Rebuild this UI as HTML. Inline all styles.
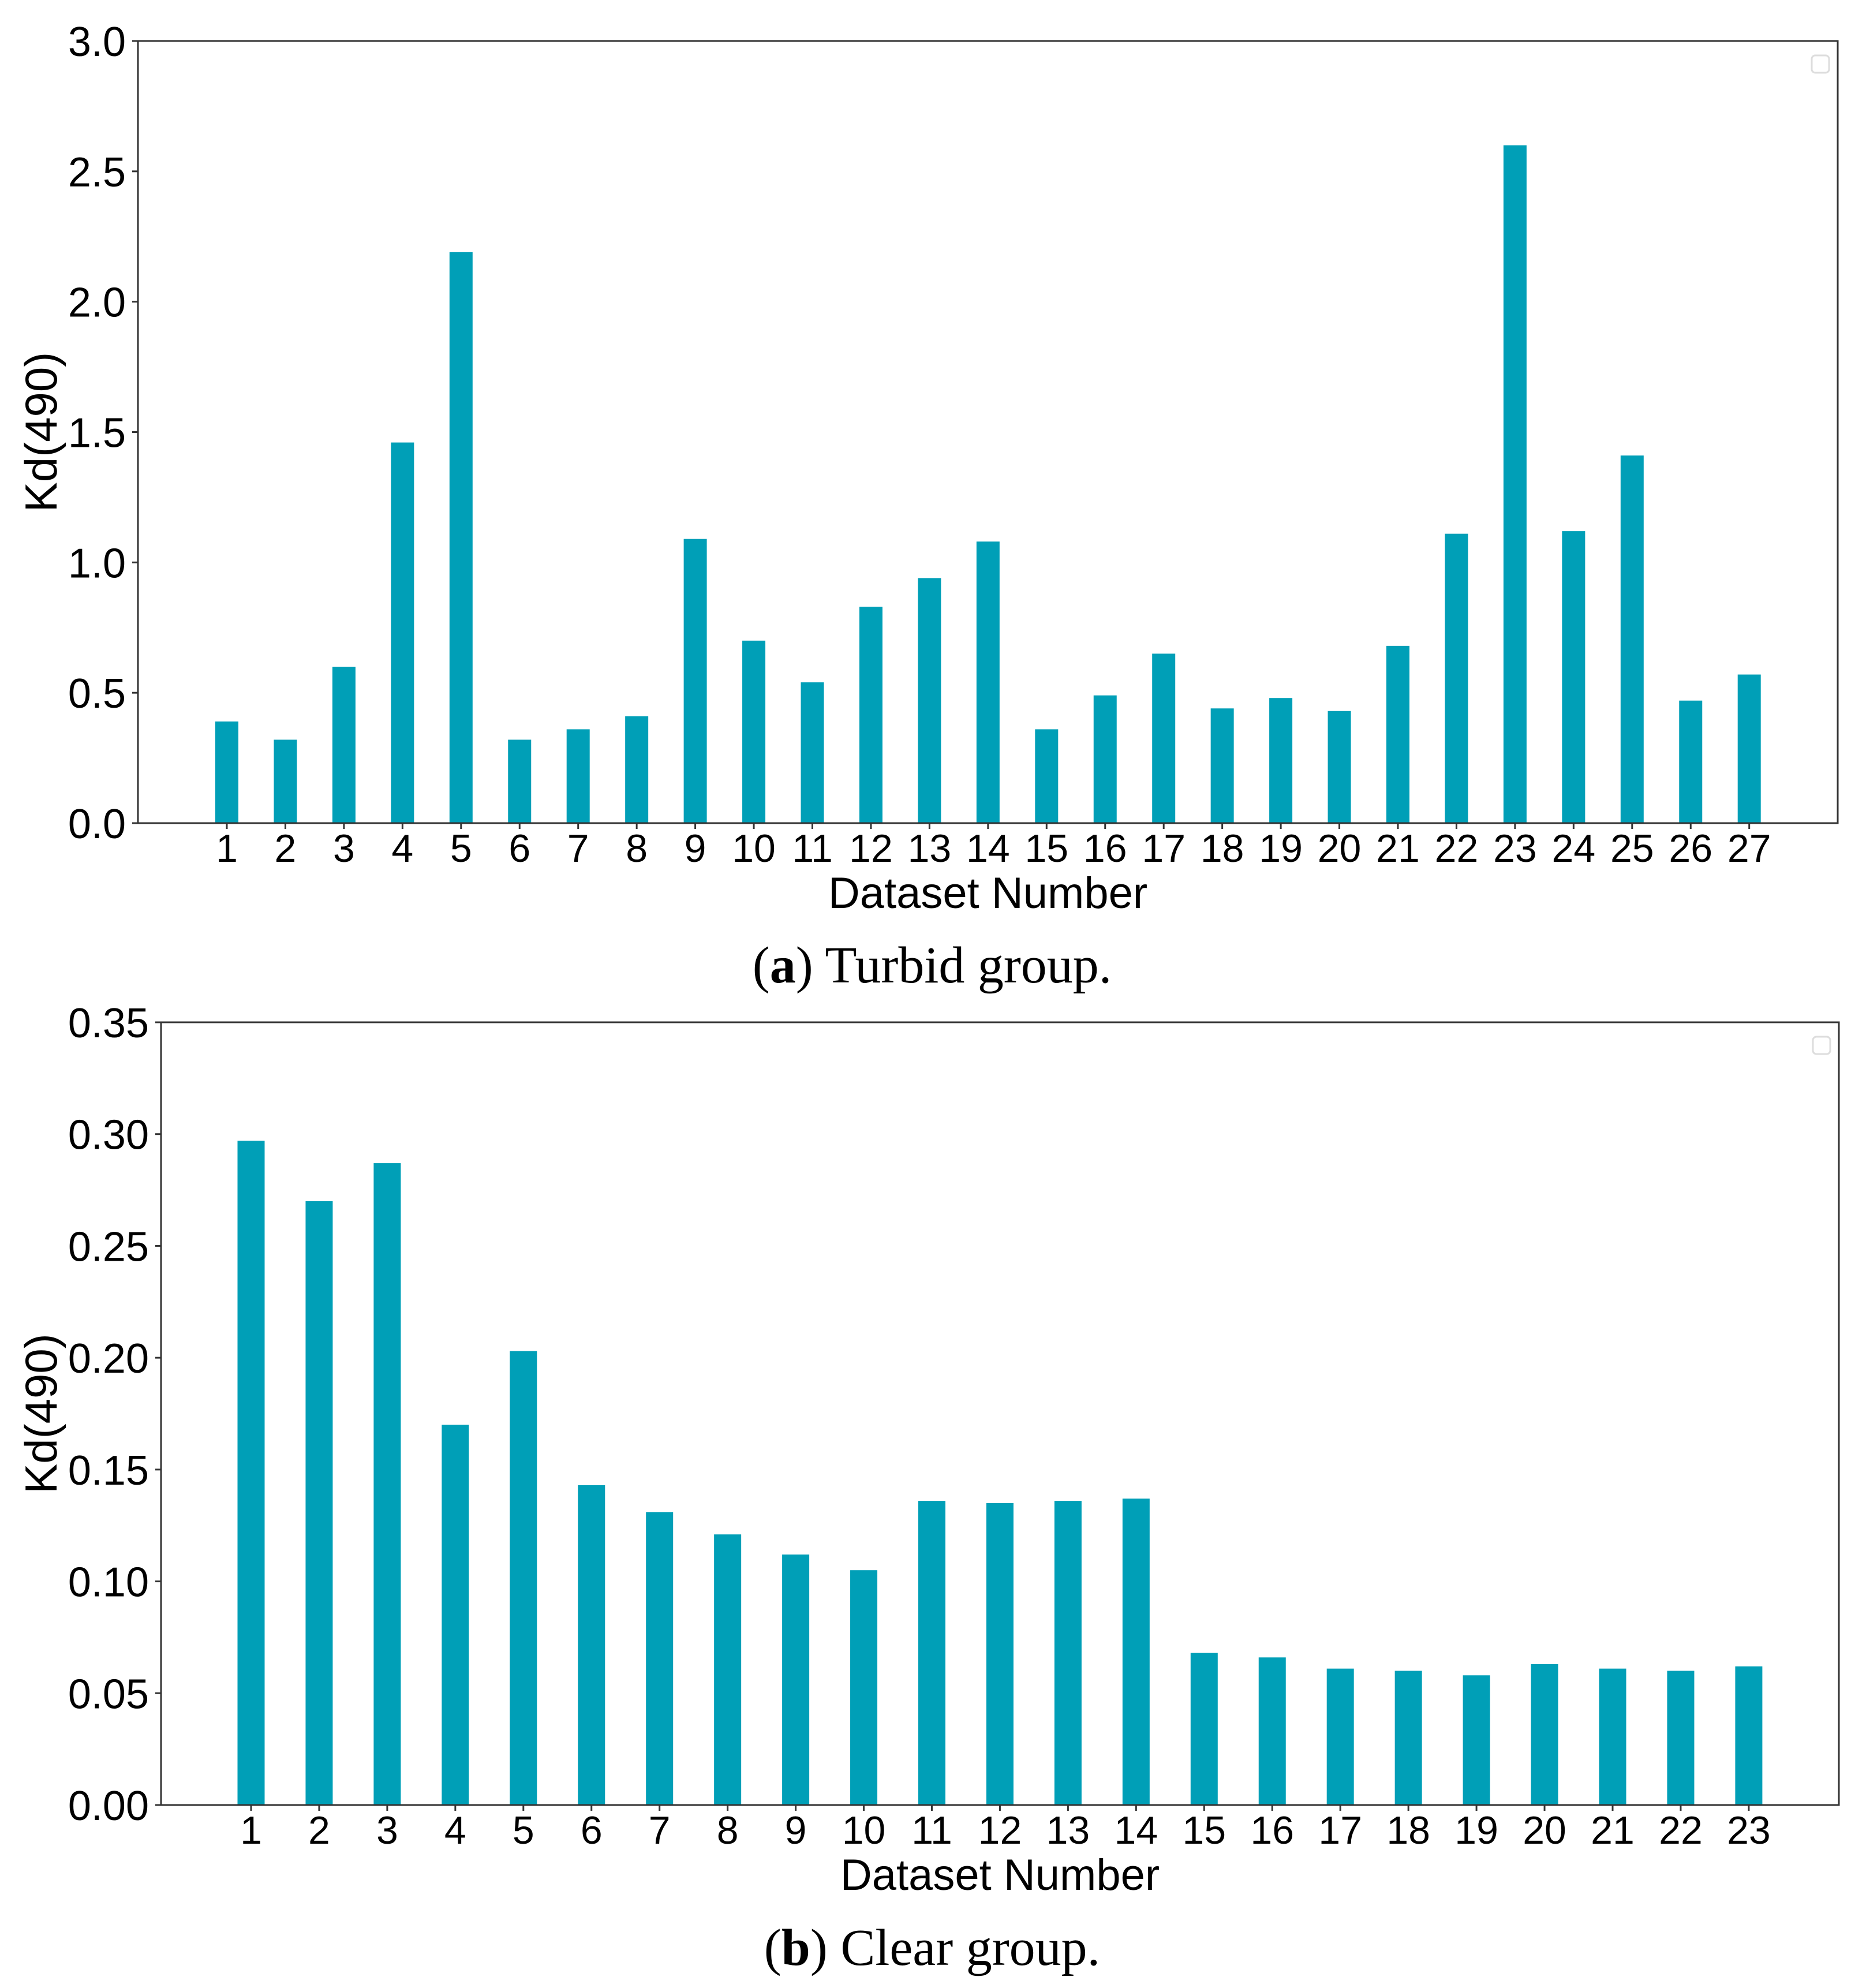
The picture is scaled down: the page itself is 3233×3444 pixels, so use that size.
<!DOCTYPE html>
<html><head><meta charset="utf-8"><style>
html,body{margin:0;padding:0;background:#fff;}
svg{display:block;}
text{font-family:"Liberation Sans",Arial,sans-serif;fill:#000;}
.cap{font-family:"Liberation Serif",serif;}
</style></head><body>
<svg id="fig" width="3233" height="3444" viewBox="0 0 3233 3444" xmlns="http://www.w3.org/2000/svg"></svg>
<script>
const turbidCategories = ["1","2","3","4","5","6","7","8","9","10","11","12","13","14","15","16","17","18","19","20","21","22","23","24","25","26","27"];
const turbidValues = [0.39,0.32,0.60,1.46,2.19,0.32,0.36,0.41,1.09,0.70,0.54,0.83,0.94,1.08,0.36,0.49,0.65,0.44,0.48,0.43,0.68,1.11,2.60,1.12,1.41,0.47,0.57];
const turbidTicks = [0,0.5,1.0,1.5,2.0,2.5,3.0];
const turbidTickLabels = ["0.0","0.5","1.0","1.5","2.0","2.5","3.0"];
const clearCategories = ["1","2","3","4","5","6","7","8","9","10","11","12","13","14","15","16","17","18","19","20","21","22","23"];
const clearValues = [0.297,0.270,0.287,0.170,0.203,0.143,0.131,0.121,0.112,0.105,0.136,0.135,0.136,0.137,0.068,0.066,0.061,0.060,0.058,0.063,0.061,0.060,0.062];
const clearTicks = [0,0.05,0.10,0.15,0.20,0.25,0.30,0.35];
const clearTickLabels = ["0.00","0.05","0.10","0.15","0.20","0.25","0.30","0.35"];

const NS="http://www.w3.org/2000/svg";
const svg=document.getElementById('fig');
function mk(tag,attrs,parent){const e=document.createElementNS(NS,tag);for(const k in attrs)e.setAttribute(k,attrs[k]);(parent||svg).appendChild(e);return e;}

function chart(cfg){
  const g=mk('g',{});
  
  
  const {L,R,T,B,ymax,x0,step,bw}=cfg;
  const y=v=>B-(v/ymax)*(B-T);
  const x=i=>x0+i*step;
  cfg.values.forEach((v,i)=>{
    const r=mk('rect',{x:x(i)-bw/2,y:y(v),width:bw,height:B-y(v),fill:'#009fb7'},g);
    
    
  });
  const frame=mk('rect',{x:L,y:T,width:R-L,height:B-T,fill:'none',stroke:'#333',"stroke-width":3},g);
  
  
  cfg.ticks.forEach((t,i)=>{
    mk('line',{x1:L-10,x2:L,y1:y(t),y2:y(t),stroke:'#333',"stroke-width":3},g);
    const tx=mk('text',{x:L-21,y:y(t)+26,"text-anchor":"end","font-size":72},g);
    tx.textContent=cfg.tickLabels[i];
    
    
  });
  cfg.cats.forEach((c,i)=>{
    mk('line',{x1:x(i),x2:x(i),y1:B,y2:B+10,stroke:'#333',"stroke-width":3},g);
    const tx=mk('text',{x:x(i),y:B+67,"text-anchor":"middle","font-size":68},g);
    tx.textContent=c;
    
    
  });
  const xt=mk('text',{x:(L+R)/2,y:B+147,"text-anchor":"middle","font-size":76},g);
  xt.textContent='Dataset Number';
  
  
  const cy=(T+B)/2;
  const yt=mk('text',{x:0,y:0,"text-anchor":"middle","font-size":78,transform:`translate(98,${cy}) rotate(-90)`},g);
  yt.textContent='Kd(490)';
  
  
  const lg=mk('rect',{x:R-45,y:T+25,width:30,height:30,rx:6,fill:'#fff',stroke:'#ddd',"stroke-width":3},g);
  
  
  const cap=mk('text',{x:1615,y:cfg.capY,"text-anchor":"middle","font-size":90,class:'cap'},g);
  const p1=mk('tspan',{},cap); p1.textContent='(';
  const b=mk('tspan',{"font-weight":"bold"},cap);
  b.textContent=cfg.capLetter;
  const p2=mk('tspan',{},cap); p2.textContent=') '+cfg.capText;
  
  
}
chart({name:'turbid-chart',L:239,R:3184,T:71,B:1426,ymax:3.0,x0:393,step:101.45,bw:40,values:turbidValues,cats:turbidCategories,ticks:turbidTicks,tickLabels:turbidTickLabels,capY:1702,capLetter:'a',capText:'Turbid group.'});
chart({name:'clear-chart',L:279,R:3186,T:1771,B:3127,ymax:0.35,x0:435,step:117.95,bw:47,values:clearValues,cats:clearCategories,ticks:clearTicks,tickLabels:clearTickLabels,capY:3404,capLetter:'b',capText:'Clear group.'});
</script>
</body></html>
